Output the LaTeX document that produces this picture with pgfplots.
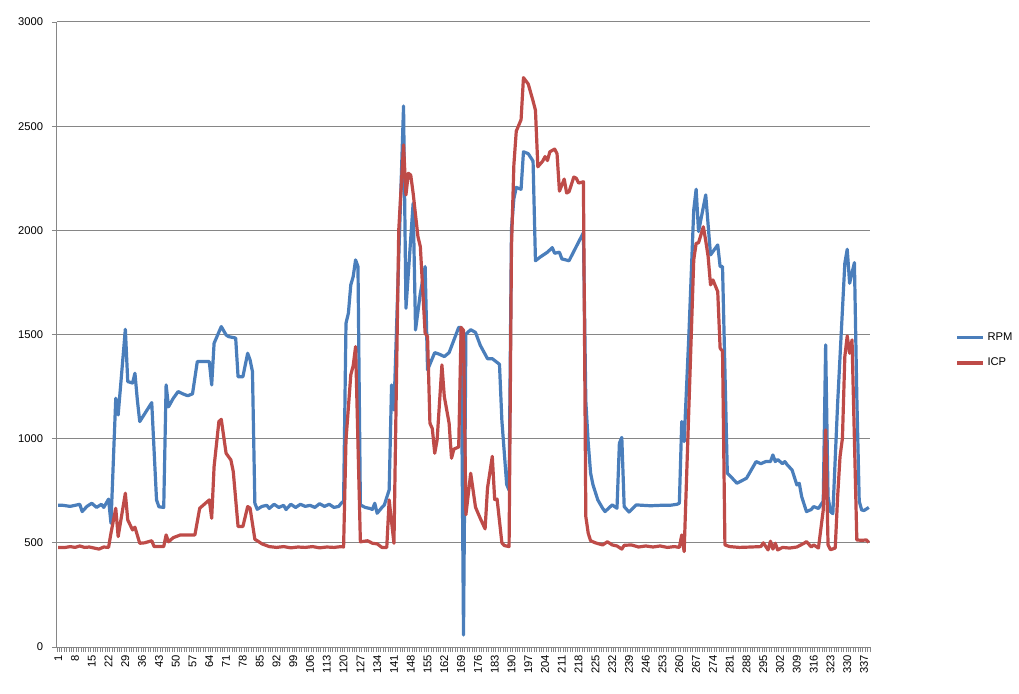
\documentclass[border=0pt]{standalone}
\usepackage{pgfplots}
\pgfplotsset{compat=1.18}
\usepackage{fontspec}
\setmainfont{Liberation Sans}
\definecolor{rpm}{HTML}{4A7EBB}
\definecolor{icp}{HTML}{BE4B48}
\definecolor{gridc}{HTML}{868686}
\begin{document}
\begin{tikzpicture}
\useasboundingbox (0,0) rectangle (764.25pt,519.75pt);
\begin{axis}[
  at={(42.75pt,34.5pt)}, anchor=south west,
  scale only axis, width=609.75pt, height=468.75pt,
  xmin=0.5, xmax=339.5, ymin=0, ymax=3000,
  xtick={1,8,...,337},
  minor xtick={0.5,1.5,...,339.5},
  ytick={0,500,...,3000},
  ymajorgrids,
  major grid style={gridc, line width=0.75pt},
  axis x line*=bottom, axis y line*=left,
  axis line style={gridc, line width=0.75pt},
  tick style={gridc, line width=0.6pt},
  tick align=outside,
  major tick length=3.75pt, minor tick length=3.75pt,
  every major x tick/.style={draw=none},
  xticklabel style={rotate=90, anchor=east, font=\fontsize{8.4}{9}\selectfont, inner sep=0pt, xshift=-2.2pt},
  yticklabel style={font=\fontsize{8.4}{9}\selectfont, inner sep=0pt, xshift=-6.5pt},
  /pgf/number format/assume math mode=true,
  /pgf/number format/1000 sep={},
  legend style={at={(1.105,0.475)}, anchor=west, draw=none, fill=none,
    font=\fontsize{8.4}{9}\selectfont, row sep=8pt, inner sep=0pt},
  legend cell align=left,
  legend image code/.code={\draw[#1] (0pt,0pt) -- (19.5pt,0pt);},
]
\addplot[rpm, line width=2.4pt, line join=round] coordinates {
(1,680)(3,680)(6,675)(8,680)(10,685)(11,650)(13,675)(15,690)(17,670)(19,685)(20,670)(22,710)(23,594)
(25,1194)(26,1114)(29,1525)(30,1274)(32,1267)(33,1314)(34,1186)(35,1082)(40,1173)(42,706)(43,673)(45,670)
(46,1258)(47,1153)(49,1194)(51,1226)(53,1215)(55,1206)(57,1215)(59,1370)(64,1370)(65,1258)(66,1458)
(69,1538)(71,1498)(72,1490)(75,1483)(76,1297)(78,1297)(80,1410)(81,1378)(82,1322)(83,690)(84,661)
(86,675)(88,680)(89,665)(91,685)(93,670)(95,680)(96,660)(98,685)(100,670)(102,685)(104,675)(106,680)
(108,670)(110,688)(112,675)(114,685)(116,670)(118,675)(119,690)(120,700)(121,1554)(122,1602)(123,1738)
(124,1778)(125,1858)(126,1826)(127,682)(129,670)(131,665)(132,660)(133,690)(134,642)(136,670)(137,682)
(139,754)(140,1258)(141,1138)(145,2597)(146,1626)(149,2130)(150,1522)(152,1698)(154,1826)(155,1330)
(158,1413)(160,1405)(162,1394)(164,1413)(168,1534)(169,1534)(170,58)(171,1502)(173,1523)(175,1510)
(177,1448)(180,1384)(182,1384)(183,1375)(185,1357)(186,1087)(188,780)(189,753)(190,2007)(191,2152)
(192,2206)(194,2197)(195,2377)(197,2368)(199,2332)(200,1854)(202,1872)(205,1895)(207,1917)(208,1890)
(210,1895)(211,1863)(214,1854)(216,1899)(218,1944)(220,1989)(221,1180)(222,980)(223,834)(224,778)
(226,706)(228,666)(229,650)(232,682)(234,666)(235,978)(236,1006)(237,674)(239,648)(242,682)(245,680)
(248,678)(252,680)(256,680)(259,685)(260,690)(261,1082)(262,986)(264,1506)(266,2098)(267,2197)
(268,1994)(271,2170)(273,1882)(276,1930)(277,1826)(278,1826)(280,834)(282,811)(284,786)(288,810)
(290,850)(292,890)(294,880)(296,890)(298,890)(299,922)(300,890)(301,900)(303,880)(304,890)(305,874)
(307,850)(309,778)(310,786)(311,722)(313,650)(315,660)(316,674)(318,665)(320,700)(321,1450)(322,722)
(323,650)(324,640)(326,1170)(327,1394)(329,1842)(330,1909)(331,1746)(333,1845)(334,1200)(335,700)
(336,658)(337,655)(339,670)
};
\addplot[icp, line width=2.4pt, line join=round] coordinates {
(1,478)(4,478)(6,482)(8,478)(10,485)(12,478)(14,480)(16,475)(18,470)(20,480)(22,478)(23,546)(25,666)
(26,530)(29,738)(30,610)(32,562)(33,575)(35,498)(37,500)(40,510)(41,482)(45,482)(46,538)(47,505)
(49,525)(52,538)(58,538)(60,666)(64,706)(65,618)(66,866)(68,1082)(69,1093)(71,930)(73,898)(74,842)
(76,578)(78,578)(80,674)(81,667)(83,517)(84,510)(86,495)(89,482)(92,478)(95,482)(98,476)(101,480)
(104,478)(107,482)(110,476)(113,480)(116,478)(119,482)(120,480)(121,994)(123,1306)(124,1350)(125,1442)
(127,505)(130,510)(132,498)(134,495)(136,478)(138,478)(139,706)(141,498)(143,2002)(145,2410)(146,2170)
(147,2274)(148,2265)(149,2178)(151,1970)(152,1922)(154,1506)(155,1490)(156,1074)(157,1048)(158,930)
(159,994)(161,1354)(162,1202)(164,1074)(165,906)(166,950)(168,960)(169,1534)(170,1520)(171,635)
(173,834)(175,671)(177,617)(179,567)(180,762)(182,915)(183,708)(184,710)(186,500)(187,487)(189,482)
(190,1917)(191,2314)(192,2476)(194,2531)(195,2733)(197,2702)(199,2621)(200,2576)(201,2305)(203,2332)
(204,2354)(205,2335)(206,2377)(208,2390)(209,2368)(210,2188)(212,2246)(213,2179)(214,2185)(216,2256)
(217,2250)(218,2227)(220,2233)(221,626)(222,546)(223,510)(225,500)(228,490)(230,505)(232,490)(234,485)
(236,470)(237,488)(240,490)(243,480)(246,485)(249,480)(252,485)(255,478)(258,482)(260,478)(261,538)
(262,458)(266,1858)(267,1938)(268,1940)(270,2017)(271,1950)(272,1874)(273,1738)(274,1762)(276,1706)
(277,1434)(278,1420)(279,490)(281,482)(285,478)(290,480)(294,482)(295,500)(297,466)(298,508)(299,470)
(300,498)(301,466)(303,478)(306,475)(309,480)(312,498)(313,506)(315,480)(316,490)(318,475)(320,658)
(321,1042)(322,490)(323,467)(325,475)(326,722)(327,914)(328,1002)(329,1394)(330,1493)(331,1410)
(332,1474)(334,514)(336,512)(338,514)(339,502)
};
\legend{RPM, ICP}
\end{axis}
\end{tikzpicture}
\end{document}
